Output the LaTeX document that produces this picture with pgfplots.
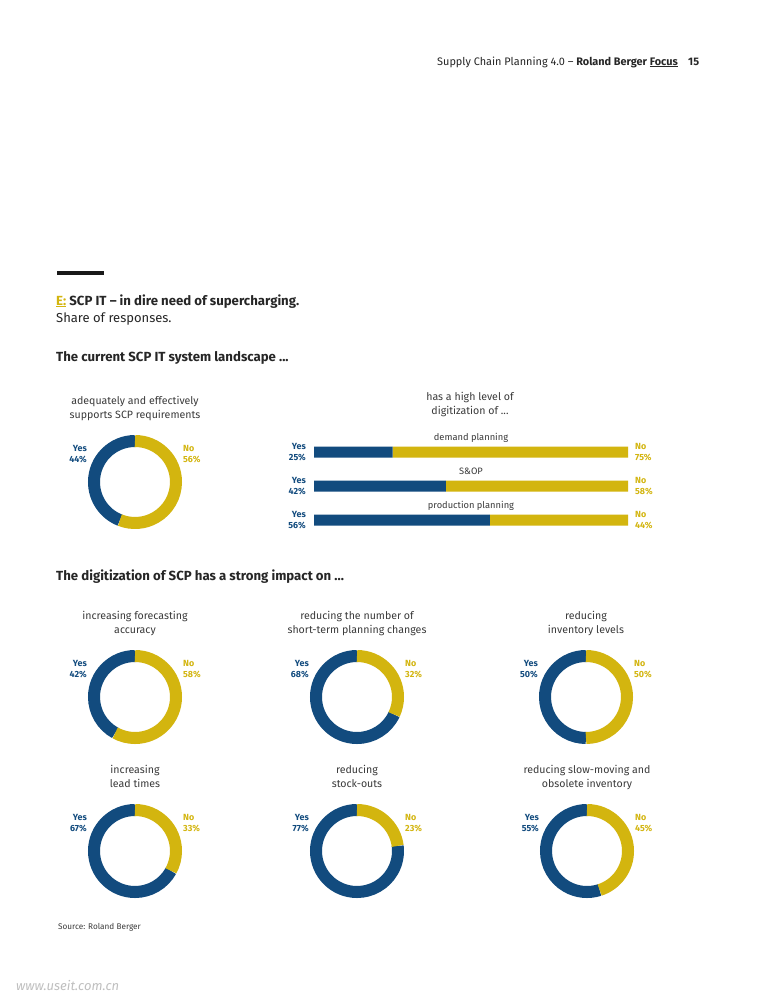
\documentclass[border=0pt]{standalone}
\usepackage{fontspec}
\setmainfont{Fira Sans}
\usepackage{pgfplots}
\pgfplotsset{compat=1.18}

\definecolor{rbblue}{HTML}{124B7E}
\definecolor{rbgold}{HTML}{D3B50F}
\definecolor{rbtext}{HTML}{3A3A3A}

\def\ringr{41pt}
\def\ringw{12pt}

% #1 cx, #2 cy (pixels from top), #3 yes, #4 no, #5/#6 title lines
\newcommand{\donut}[6]{%
  \begin{axis}[at={(#1pt,-#2pt)}, anchor=center, scale only axis,
      width=94pt, height=94pt, xmin=-1, xmax=1, ymin=-1, ymax=1,
      hide axis, clip=false]
    \addplot[draw=none, forget plot] coordinates {(0,0)};
    \draw[rbblue, line width=\ringw] (axis cs:0,0) ++(90:\ringr)
      arc[start angle=90, delta angle=3.6*#3, radius=\ringr];
    \draw[rbgold, line width=\ringw] (axis cs:0,0) ++(90:\ringr)
      arc[start angle=90, delta angle=-3.6*#4, radius=\ringr];
  \end{axis}
  \node[ttl] at (#1pt,-#2pt+78pt) {#5};
  \node[ttl] at (#1pt,-#2pt+64pt) {#6};
  \node[lab, anchor=base east, text=rbblue] at (#1pt-48pt,-#2pt+31pt) {Yes};
  \node[lab, anchor=base east, text=rbblue] at (#1pt-48pt,-#2pt+20pt) {#3\%};
  \node[lab, anchor=base west, text=rbgold] at (#1pt+48pt,-#2pt+31pt) {No};
  \node[lab, anchor=base west, text=rbgold] at (#1pt+48pt,-#2pt+20pt) {#4\%};
}

\begin{document}
\begin{tikzpicture}[
    ttl/.style={font=\fontsize{10.6}{12}\selectfont, text=rbtext, anchor=base, inner sep=0pt},
    lab/.style={font=\fontsize{8.9}{10.5}\selectfont\bfseries, inner sep=0pt},
    head/.style={font=\fontsize{13.2}{15}\selectfont\bfseries, text=black!85, anchor=base west, inner sep=0pt}]
  \path[fill=white] (0pt,0pt) rectangle (756pt,-1002pt);

  % page header
  \node[anchor=base east, inner sep=0pt, font=\fontsize{10.9}{12}\selectfont, text=black!85] at (678pt,-65pt)
    {Supply Chain Planning 4.0 -- \textbf{Roland Berger} \textbf{\underline{Focus}}};
  \node[anchor=base west, inner sep=0pt, font=\fontsize{10.9}{12}\selectfont\bfseries, text=black!85] at (688pt,-65pt) {15};

  % exhibit title
  \fill[black!90] (57pt,-271pt) rectangle (104pt,-275pt);
  \node[head] at (56pt,-305pt) {\textcolor{rbgold}{\underline{E:}} SCP IT -- in dire need of supercharging.};
  \node[anchor=base west, inner sep=0pt, font=\fontsize{13}{15}\selectfont, text=black!85] at (56pt,-322pt) {Share of responses.};
  \node[head] at (56pt,-361pt) {The current SCP IT system landscape ...};

  % donut: adequately supports
  \donut{135}{482}{44}{56}{adequately and effectively}{supports SCP requirements}

  % stacked bars: digitization level
  \node[ttl] at (470pt,-400pt) {has a high level of};
  \node[ttl] at (470pt,-414pt) {digitization of ...};
  \begin{axis}[at={(471pt,-486pt)}, anchor=center, scale only axis,
      width=314pt, height=102pt, xbar stacked, bar width=11pt,
      xmin=0, xmax=100, ymin=-0.5, ymax=2.5, y dir=reverse,
      hide axis, clip=false]
    \addplot[fill=rbblue, draw=none] coordinates {(25,0) (42,1) (56,2)};
    \addplot[fill=rbgold, draw=none] coordinates {(75,0) (58,1) (44,2)};
    \node[font=\fontsize{9.3}{10}\selectfont, text=rbtext, anchor=base, inner sep=0pt] at (axis cs:50,0) [yshift=12pt] {demand planning};
    \node[font=\fontsize{9.3}{10}\selectfont, text=rbtext, anchor=base, inner sep=0pt] at (axis cs:50,1) [yshift=12pt] {S\&OP};
    \node[font=\fontsize{9.3}{10}\selectfont, text=rbtext, anchor=base, inner sep=0pt] at (axis cs:50,2) [yshift=12pt] {production planning};
    \node[lab, text=rbblue, align=right, anchor=east] at (axis cs:0,0) [xshift=-8pt] {Yes\\25\%};
    \node[lab, text=rbblue, align=right, anchor=east] at (axis cs:0,1) [xshift=-8pt] {Yes\\42\%};
    \node[lab, text=rbblue, align=right, anchor=east] at (axis cs:0,2) [xshift=-8pt] {Yes\\56\%};
    \node[lab, text=rbgold, align=left, anchor=west] at (axis cs:100,0) [xshift=7pt] {No\\75\%};
    \node[lab, text=rbgold, align=left, anchor=west] at (axis cs:100,1) [xshift=7pt] {No\\58\%};
    \node[lab, text=rbgold, align=left, anchor=west] at (axis cs:100,2) [xshift=7pt] {No\\44\%};
  \end{axis}

  % impact section
  \node[head] at (56pt,-580pt) {The digitization of SCP has a strong impact on ...};
  \donut{135}{697}{42}{58}{increasing forecasting}{accuracy}
  \donut{357}{697}{68}{32}{reducing the number of}{short-term planning changes}
  \donut{586}{697}{50}{50}{reducing}{inventory levels}
  \donut{135}{851}{67}{33}{increasing}{lead times}
  \donut{357}{851}{77}{23}{reducing}{stock-outs}
  \donut{587}{851}{55}{45}{reducing slow-moving and}{obsolete inventory}

  % source and watermark
  \node[anchor=base west, inner sep=0pt, font=\fontsize{8.2}{9}\selectfont, text=rbtext] at (58pt,-929pt) {Source: Roland Berger};
  \node[anchor=west, inner sep=0pt, font=\fontsize{13}{15}\selectfont\itshape, text=black!25] at (16pt,-985pt) {www.useit.com.cn};
\end{tikzpicture}
\end{document}
